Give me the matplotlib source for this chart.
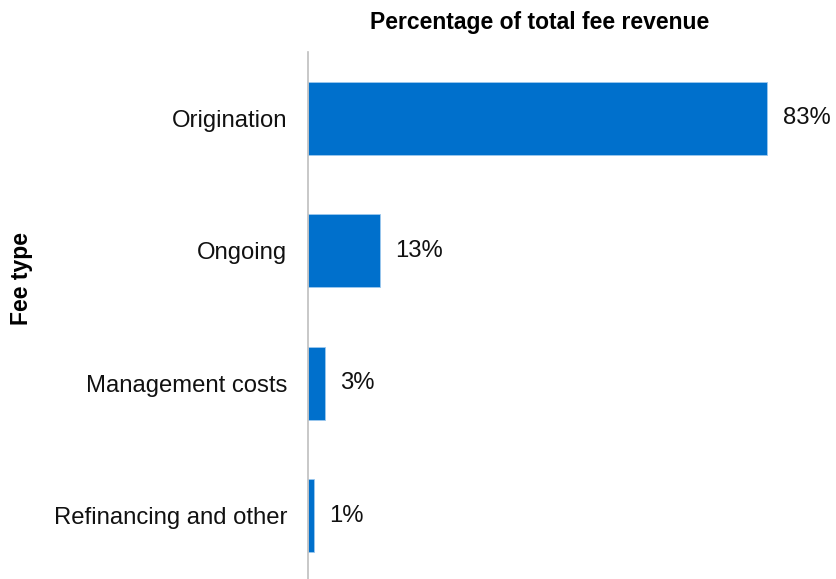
import matplotlib
matplotlib.use("Agg")
import matplotlib.pyplot as plt

plt.rcParams['font.family'] = ['Liberation Sans', 'DejaVu Sans']

categories = ["Origination", "Ongoing", "Management costs", "Refinancing and other"]
values = [83, 13, 3, 1]
value_labels = ["83%", "13%", "3%", "1%"]

W, H = 837, 579
fig = plt.figure(figsize=(W / 100, H / 100), dpi=100)
ax = fig.add_axes([308 / W, -3 / H, (837 - 308) / W, (582 - 52) / H])

bar_color = "#0070CC"
ypos = list(range(len(categories)))
ax.barh(ypos, values, height=0.55, color=bar_color, edgecolor="#9CC8EE", linewidth=0.6)

ax.set_ylim(len(categories) - 0.5, -0.5)
ax.set_xlim(0, 95.6)
ax.set_yticks(ypos)
ax.set_yticklabels(categories, fontsize=17.2, color="#111111")
ax.tick_params(axis="y", length=0, pad=15)
ax.set_xticks([])

for s in ["top", "right", "bottom"]:
    ax.spines[s].set_visible(False)
ax.spines["left"].set_color("#BFBFBF")
ax.spines["left"].set_linewidth(1.2)

for y, v, lab in zip(ypos, values, value_labels):
    ax.text(v + 2.8, y, lab, va="center", ha="left", fontsize=17.2, color="#111111")

fig.text(540 / W, 1 - 22 / H, "Percentage of total fee revenue", ha="center", va="center",
         fontsize=16.5, fontweight="bold", color="#000000")
fig.text(22 / W, 1 - 278 / H, "Fee type", ha="center", va="center", rotation=90,
         fontsize=16.5, fontweight="bold", color="#000000")

fig.savefig("out.png", dpi=100)
